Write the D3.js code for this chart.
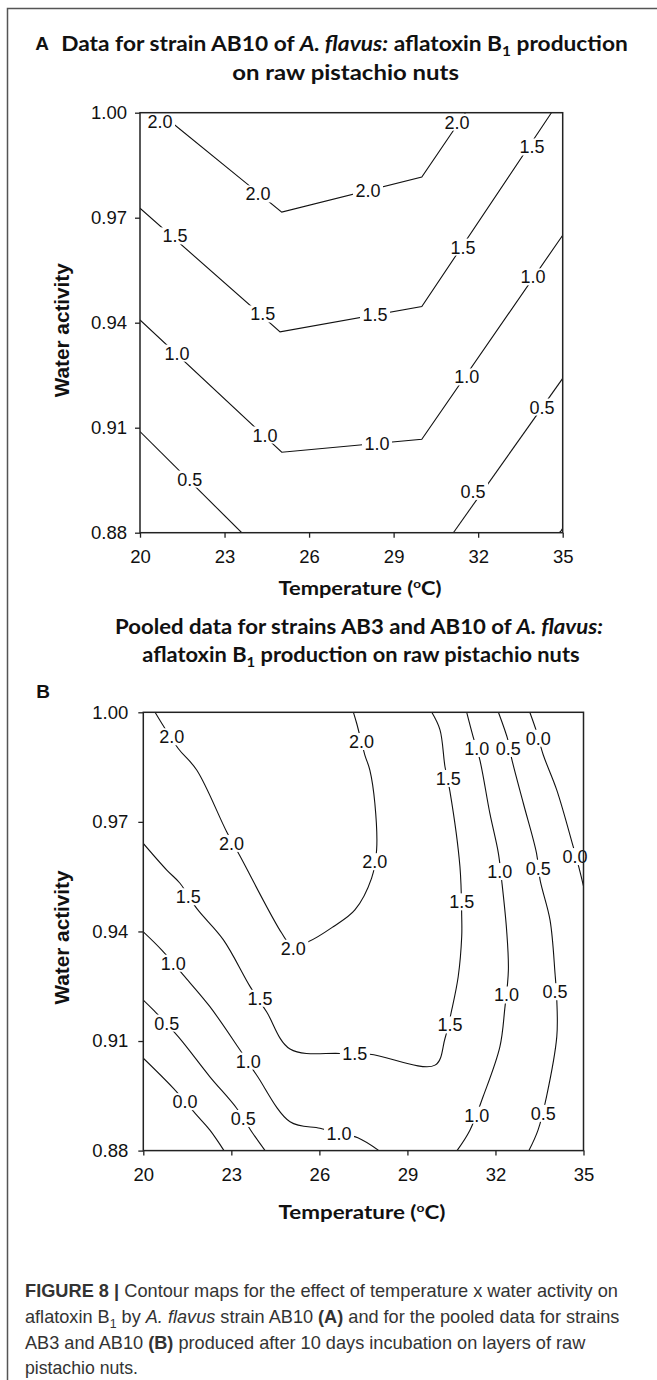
<!DOCTYPE html>
<html><head><meta charset="utf-8">
<script src="https://cdn.jsdelivr.net/npm/d3@7"></script>
<style>
body{margin:0;background:#fff;}
svg{display:block;}
</style></head><body>
<svg id="c" width="657" height="1380"></svg>
<script>
// ================= DATA =================
const tempTicks = [20, 23, 26, 29, 32, 35];
const awTicks = [0.88, 0.91, 0.94, 0.97, 1.00];

// ---- Panel A: strain AB10 — contour lines as [temperature, water activity]
const a_line20 = [[20.7,1.000],[25.03,0.9716],[30.0,0.9816],[31.55,1.000]];
const a_line15 = [[20,0.9727],[24.97,0.9374],[30.0,0.9446],[34.6,1.000]];
const a_line10 = [[20,0.9408],[25.03,0.9030],[30.0,0.9067],[35,0.9650]];
const a_line05left = [[20,0.9089],[23.61,0.88]];
const a_line05right = [[31.12,0.88],[35,0.9241]];
const a_lineCorner = [[34.88,0.88],[34.95,0.8806],[35,0.8813]];
// label positions per level
const a_lab20 = [[20.71,0.9976],[24.19,0.9768],[28.09,0.9779],[31.25,0.9973]];
const a_lab15 = [[21.24,0.9648],[24.36,0.9425],[28.34,0.9422],[31.46,0.9616],[33.91,0.9902]];
const a_lab10 = [[21.31,0.9313],[24.44,0.9079],[28.41,0.9056],[31.60,0.9245],[33.95,0.9531]];
const a_lab05 = [[21.77,0.8953],[31.82,0.8918],[34.27,0.9159]];

// ---- Panel B: pooled AB3 + AB10
const b_line20 = [[20.40,1.0],[21.19,0.9901],[21.82,0.9842],[22.84,0.9673],[23.29,0.9607],[24.72,0.9395],[25.05,0.9362],[25.62,0.9372],[26.47,0.9413],[27.21,0.9459],[27.78,0.9546],[27.95,0.9623],[27.89,0.9751],[27.72,0.9842],[27.55,0.9883],[27.27,0.9970],[27.16,1.0]];
const b_line15 = [[20,0.9641],[20.80,0.9568],[21.25,0.9532],[21.82,0.9463],[22.73,0.9377],[23.64,0.9249],[24.20,0.9180],[25.00,0.9078],[26.70,0.9066],[27.72,0.9064],[29.94,0.9034],[30.28,0.9107],[30.51,0.9185],[30.73,0.9276],[30.85,0.9386],[30.85,0.9440],[30.79,0.9577],[30.45,0.9783],[30.28,0.9851],[30.11,0.9952],[29.83,1.0]];
const b_line10left = [[20,0.9399],[20.63,0.9349],[21.36,0.9281],[22.27,0.9194],[23.29,0.9076],[23.86,0.9007],[25.00,0.8879],[26.02,0.8861],[26.67,0.8848],[27.31,0.8835],[28.03,0.88]];
const b_line10right = [[31.02,1.0],[31.24,0.9933],[31.47,0.9869],[31.81,0.9723],[32.10,0.9614],[32.21,0.9541],[32.38,0.9404],[32.44,0.9294],[32.32,0.9190],[32.15,0.9084],[31.58,0.8948],[31.13,0.8856],[30.69,0.88]];
const b_line05left = [[20,0.9212],[20.34,0.9185],[21.19,0.9112],[22.27,0.9002],[23.18,0.8916],[23.70,0.8851],[24.15,0.88]];
const b_line05right = [[32.10,1.0],[32.44,0.9920],[32.55,0.9874],[32.95,0.9751],[33.40,0.9614],[33.52,0.9541],[33.86,0.9431],[34.03,0.9285],[34.09,0.9212],[34.09,0.9112],[33.74,0.8948],[33.45,0.8856],[33.14,0.88]];
const b_line00left = [[20,0.9053],[21.02,0.8971],[21.82,0.8897],[22.27,0.8856],[22.75,0.88]];
const b_line00right = [[33.17,1.0],[33.40,0.9947],[33.63,0.9883],[34.09,0.9787],[34.65,0.9632],[34.88,0.9564],[35,0.9524]];
const b_lab20 = [[20.97,0.9933],[23.01,0.9641],[25.11,0.9354],[27.89,0.9591],[27.44,0.9920]];
const b_lab15 = [[21.53,0.9495],[23.98,0.9217],[27.21,0.9066],[30.45,0.9144],[30.85,0.9481],[30.39,0.9819]];
const b_lab10 = [[21.02,0.9313],[23.58,0.9045],[26.67,0.8846],[31.36,0.9901],[32.15,0.9564],[32.38,0.9226],[31.36,0.8897]];
const b_lab05 = [[20.80,0.9149],[23.41,0.8888],[32.44,0.9901],[33.46,0.9573],[34.03,0.9235],[33.63,0.8902]];
const b_lab00 = [[21.42,0.8934],[33.46,0.9929],[34.71,0.9605]];

// ================= DRAW =================
const svg = d3.select("#c");
const TICKFONT = "'Liberation Sans', Arial, sans-serif";
const TITLEFONT = "Lato, 'Open Sans', sans-serif";

// outer frame (left + top edges)
svg.append("path").attr("d","M7.5,1380 V8.5 H657")
  .attr("fill","none").attr("stroke","#555").attr("stroke-width",1.5);

function fitted(parent, x, y, anchor, targetW, fontSize, family, weight, build, rotate, color) {
  const g = parent.append("g");
  const t = g.append("text").attr("text-anchor", anchor)
    .attr("font-family", family).attr("font-size", fontSize)
    .attr("font-weight", weight).attr("fill", color || "#111");
  build(t);
  const w = t.node().getBBox().width;
  const s = targetW / w;
  g.attr("transform", `translate(${x},${y})` + (rotate ? ` rotate(${rotate})` : "") + ` scale(${s},1)`);
  return s;
}
function sub(t, pre, subTxt, post) {
  t.append("tspan").text(pre);
  t.append("tspan").attr("font-size","0.68em").attr("dy",5).text(subTxt);
  t.append("tspan").attr("dy",-5).text(post);
}

function panel(cfg) {
  const x = d3.scaleLinear().domain([20,35]).range([cfg.x0, cfg.x1]);
  const y = d3.scaleLinear().domain([0.88,1.00]).range([cfg.y1, cfg.y0]);
  const g = svg.append("g");
  const clipId = "clip" + cfg.id;
  svg.append("clipPath").attr("id", clipId).append("rect")
    .attr("x", cfg.x0).attr("y", cfg.y0).attr("width", cfg.x1-cfg.x0).attr("height", cfg.y1-cfg.y0);
  const line = d3.line().x(d=>x(d[0])).y(d=>y(d[1])).curve(cfg.curve);
  g.append("g").attr("clip-path", `url(#${clipId})`)
    .selectAll("path").data(cfg.lines).join("path")
    .attr("d", line).attr("fill","none").attr("stroke","#111").attr("stroke-width",1.1);
  // contour labels with white knock-out boxes
  const labs = [];
  cfg.labels.forEach(l => l.pts.forEach(p => labs.push({v:l.v, p})));
  const lg = g.append("g").selectAll("g").data(labs).join("g");
  const lt = lg.append("text")
    .attr("x", d=>x(d.p[0])).attr("y", d=>y(d.p[1])).attr("dy","0.36em")
    .attr("text-anchor","middle").attr("font-family",TICKFONT).attr("font-size",18)
    .attr("fill","#111").text(d=>d.v);
  lt.each(function(d){
    const b = this.getBBox();
    d3.select(this.parentNode).insert("rect","text")
      .attr("x", b.x-2.5).attr("width", b.width+5)
      .attr("y", y(d.p[1])-8.5).attr("height", 17)
      .attr("fill","#fff");
  });
  // axes
  const ay = g.append("g").attr("transform",`translate(${cfg.x0},0)`)
    .call(d3.axisLeft(y).tickValues(awTicks).tickFormat(d3.format(".2f")).tickSize(5).tickPadding(cfg.ypad));
  const ax = g.append("g").attr("transform",`translate(0,${cfg.y1})`)
    .call(d3.axisBottom(x).tickValues(tempTicks).tickFormat(d3.format("d")).tickSize(5).tickPadding(12));
  [ay, ax].forEach(a => {
    a.select(".domain").remove();
    a.attr("font-family", TICKFONT).attr("font-size", 18.5);
    a.selectAll("line").attr("stroke","#222").attr("stroke-width",1.3);
    a.selectAll("text").attr("fill","#111");
  });
  // box
  g.append("rect").attr("x",cfg.x0).attr("y",cfg.y0)
    .attr("width",cfg.x1-cfg.x0).attr("height",cfg.y1-cfg.y0)
    .attr("fill","none").attr("stroke","#222").attr("stroke-width",1.5);
  // axis titles
  fitted(svg, 69, (cfg.y0+cfg.y1)/2 + cfg.ytOff, "middle", 135, 20, TICKFONT, "bold",
    t => t.text("Water activity"), -90);
  fitted(svg, cfg.xtX, cfg.xtY, "middle", cfg.xtW, 19, TITLEFONT, "bold", t => {
    t.append("tspan").text("Temperature (");
    t.append("tspan").attr("font-size","0.62em").attr("dy",-7).text("o");
    t.append("tspan").attr("dy",7).text("C)");
  });
}

panel({id:"A", x0:140, x1:562.7, y0:112.7, y1:532.7, ypad:8, curve:d3.curveLinear,
  ytOff:7.5, xtX:360, xtY:595, xtW:163,
  lines:[a_line20, a_line15, a_line10, a_line05left, a_line05right, a_lineCorner],
  labels:[{v:"2.0",pts:a_lab20},{v:"1.5",pts:a_lab15},{v:"1.0",pts:a_lab10},{v:"0.5",pts:a_lab05}]});

panel({id:"B", x0:143.3, x1:583.5, y0:712.3, y1:1150.6, ypad:10, curve:d3.curveCatmullRom.alpha(0.5),
  ytOff:6, xtX:362, xtY:1219, xtW:167,
  lines:[b_line20, b_line15, b_line10left, b_line10right, b_line05left, b_line05right, b_line00left, b_line00right],
  labels:[{v:"2.0",pts:b_lab20},{v:"1.5",pts:b_lab15},{v:"1.0",pts:b_lab10},{v:"0.5",pts:b_lab05},{v:"0.0",pts:b_lab00}]});

// panel letters
svg.append("text").attr("x",42).attr("y",50).attr("text-anchor","middle")
  .attr("font-family",TICKFONT).attr("font-weight","bold").attr("font-size",19).attr("fill","#111").text("A");
svg.append("text").attr("x",43).attr("y",698).attr("text-anchor","middle")
  .attr("font-family",TICKFONT).attr("font-weight","bold").attr("font-size",19).attr("fill","#111").text("B");

// panel titles
fitted(svg, 344.5, 51, "middle", 567, 20, TITLEFONT, "bold", t => {
  t.append("tspan").text("Data for strain AB10 of ");
  t.append("tspan").attr("font-style","italic").text("A. flavus:");
  sub(t, " aflatoxin B", "1", " production");
});
fitted(svg, 345.6, 80, "middle", 227, 20, TITLEFONT, "bold", t => t.text("on raw pistachio nuts"));
fitted(svg, 359, 634, "middle", 488, 20, TITLEFONT, "bold", t => {
  t.append("tspan").text("Pooled data for strains AB3 and AB10 of ");
  t.append("tspan").attr("font-style","italic").text("A. flavus:");
});
fitted(svg, 361, 662, "middle", 437.6, 20, TITLEFONT, "bold", t => sub(t, "aflatoxin B", "1", " production on raw pistachio nuts"));

// caption
const CAPFONT = "'Liberation Sans Narrow', 'Arial Narrow', 'Liberation Sans', sans-serif";
const capColor = "#333";
fitted(svg, 25, 1297, "start", 593, 17.5, CAPFONT, "normal", t => {
  t.append("tspan").attr("font-weight","bold").text("FIGURE 8 | ");
  t.append("tspan").text("Contour maps for the effect of temperature x water activity on");
}, 0, capColor);
fitted(svg, 25, 1323, "start", 595, 17.5, CAPFONT, "normal", t => {
  sub(t, "aflatoxin B", "1", "  by ");
  t.append("tspan").attr("font-style","italic").text("A. flavus");
  t.append("tspan").text(" strain AB10 ");
  t.append("tspan").attr("font-weight","bold").text("(A)");
  t.append("tspan").text(" and for the pooled data for strains");
}, 0, capColor);
fitted(svg, 25, 1349, "start", 561, 17.5, CAPFONT, "normal", t => {
  t.append("tspan").text("AB3 and AB10 ");
  t.append("tspan").attr("font-weight","bold").text("(B)");
  t.append("tspan").text(" produced after 10 days incubation on layers of raw");
}, 0, capColor);
fitted(svg, 25, 1374, "start", 113, 17.5, CAPFONT, "normal", t => t.text("pistachio nuts."), 0, capColor);
</script>
</body></html>
